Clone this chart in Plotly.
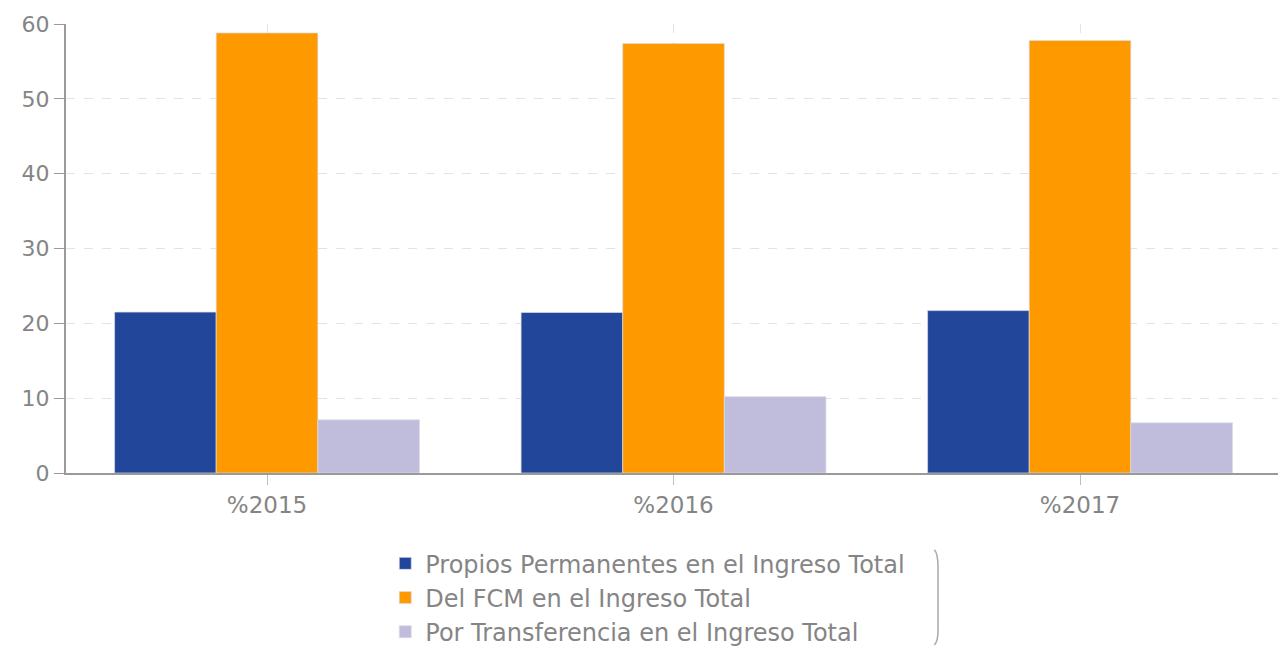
import plotly.graph_objects as go

categories = ["%2015", "%2016", "%2017"]
series_names = [
    "Propios Permanentes en el Ingreso Total",
    "Del FCM en el Ingreso Total",
    "Por Transferencia en el Ingreso Total",
]
propios = [21.5, 21.45, 21.7]
fcm = [58.8, 57.4, 57.8]
transferencia = [7.1, 10.2, 6.7]
colors = ["#21469A", "#FF9900", "#C0BCDC"]
y_ticks = [0, 10, 20, 30, 40, 50, 60]

fig = go.Figure()
for name, vals, col in zip(series_names, [propios, fcm, transferencia], colors):
    fig.add_trace(go.Bar(
        x=categories, y=vals, name=name,
        marker=dict(color=col, line=dict(color="rgba(220,220,230,0.7)", width=1)),
    ))

font_family = "DejaVu Sans, Verdana, sans-serif"
fig.update_layout(
    width=1278, height=647,
    paper_bgcolor="white", plot_bgcolor="white",
    margin=dict(l=66, r=0, t=24, b=174, autoexpand=False),
    barmode="group", bargap=0.25, bargroupgap=0,
    font=dict(family=font_family, color="#858585", size=20),
    legend=dict(
        orientation="v", x=0.48, xanchor="center", y=-0.152, yanchor="top",
        font=dict(size=24, color="#858585"), itemwidth=30,
        traceorder="normal", bgcolor="rgba(0,0,0,0)", tracegroupgap=0,
    ),
    showlegend=True,
)
fig.update_xaxes(
    range=[-0.4945, 2.487],
    showline=True, linecolor="#9a9a9a", linewidth=2, automargin=False,
    showgrid=True, gridcolor="#e3e3e3", griddash="dash", gridwidth=1,
    ticks="outside", ticklen=10, tickcolor="#bdbdbd",
    tickfont=dict(size=23, color="#858585"),
)
fig.update_yaxes(
    range=[0, 60], tickvals=y_ticks, automargin=False,
    showline=True, linecolor="#9a9a9a", linewidth=2,
    showgrid=True, gridcolor="#e3e3e3", griddash="dash", gridwidth=1,
    ticks="outside", ticklen=10, tickcolor="#9a9a9a",
    tickfont=dict(size=22, color="#858585"), zeroline=False,
)
fig.add_shape(type="path", xref="paper", yref="paper",
              path="M 0.7165,-0.171 Q 0.7195,-0.18 0.7195,-0.21 L 0.7195,-0.35 Q 0.7195,-0.375 0.7165,-0.383",
              line=dict(color="#aaaaaa", width=1.5))
fig.write_html("out.html", config={"displayModeBar": False},
               post_script="document.body.style.margin='0';")
